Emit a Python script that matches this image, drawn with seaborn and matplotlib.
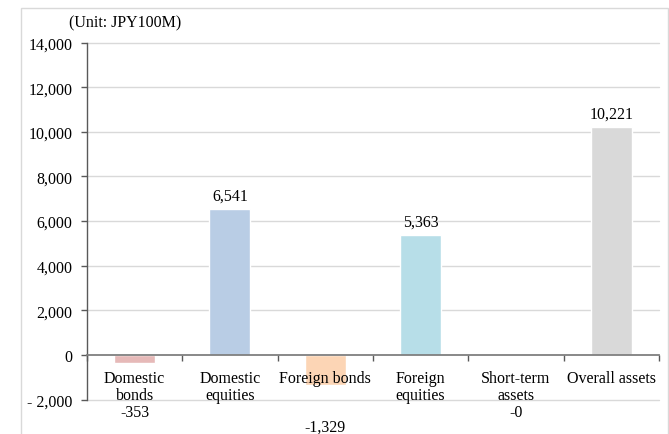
import matplotlib
matplotlib.use("Agg")
import matplotlib.pyplot as plt
from matplotlib.patches import Rectangle
from matplotlib.ticker import FuncFormatter, FixedLocator
import seaborn as sns
import pandas as pd

categories = ["Domestic\nbonds", "Domestic\nequities", "Foreign bonds",
              "Foreign\nequities", "Short-term\nassets", "Overall assets"]
values = [-353, 6541, -1329, 5363, -0.4, 10221]
value_labels = ["-353", "6,541", "-1,329", "5,363", "-0", "10,221"]
bar_colors = ["#E6B9B8", "#B9CDE5", "#FCD5B5", "#B7DEE8", "#CCC1DA", "#D9D9D9"]
y_ticks = [-2000, 0, 2000, 4000, 6000, 8000, 10000, 12000, 14000]

FS = 11.5

sns.set_theme(style="white")
plt.rcParams["font.family"] = ["Liberation Serif", "DejaVu Serif"]

df = pd.DataFrame({"category": categories, "value": values})

fig = plt.figure(figsize=(6.69, 4.35), dpi=100)
ax = fig.add_axes([0.130, 0.079, 0.855, 0.821])

sns.barplot(data=df, x="category", y="value", hue="category",
            palette=bar_colors, width=0.43, legend=False, ax=ax,
            saturation=1, zorder=0.5)

ax.set_ylim(-2000, 14000)
ax.set_xlim(-0.5, len(categories) - 0.5)
ax.set_xlabel("")
ax.set_ylabel("")

# y axis: accounting-style labels
def fmt(v, _):
    if v < 0:
        return "- {:,.0f}".format(-v)
    return "{:,.0f}".format(v)

ax.yaxis.set_major_locator(FixedLocator(y_ticks))
ax.yaxis.set_major_formatter(FuncFormatter(fmt))
ax.tick_params(axis="y", which="major", left=True, length=4, width=1,
               color="#595959", labelsize=FS, pad=6.5, labelcolor="black")

# horizontal gridlines
for t in y_ticks:
    if t != 0:
        ax.axhline(t, color="#D9D9D9", lw=1, zorder=0.3, clip_on=False)

# category axis crossing at zero
ax.spines["bottom"].set_position(("data", 0))
for s in ["top", "right"]:
    ax.spines[s].set_visible(False)
ax.spines["bottom"].set_color("#7F7F7F")
ax.spines["bottom"].set_linewidth(1.3)
ax.spines["left"].set_color("#595959")
ax.spines["left"].set_linewidth(1)

n = len(categories)
ax.xaxis.set_major_locator(FixedLocator([i - 0.5 for i in range(n + 1)]))
ax.xaxis.set_major_formatter(FuncFormatter(lambda v, _: ""))
ax.xaxis.set_minor_locator(FixedLocator(list(range(n))))
ax.set_xticklabels(categories, minor=True)
ax.tick_params(axis="x", which="major", bottom=True, length=4, width=1,
               color="#595959", direction="out")
ax.tick_params(axis="x", which="minor", bottom=True, length=0, pad=11,
               labelsize=FS, labelcolor="black")
for lab in ax.get_xticklabels(minor=True):
    lab.set_linespacing(1.08)

# value labels
neg_label_y = {0: -2560, 2: -3200, 4: -2560}
for i, (v, lab) in enumerate(zip(values, value_labels)):
    if v > 0:
        ax.text(i, v + 250, lab, ha="center", va="bottom", fontsize=FS,
                color="black")
    else:
        ax.text(i, neg_label_y[i], lab, ha="center", va="center",
                fontsize=FS, color="black", clip_on=False)

fig.text(0.187, 0.947, "(Unit: JPY100M)", ha="center", va="center",
         fontsize=FS, color="black")

# chart area border
fig.patches.append(Rectangle((21 / 669, -0.01), (668 - 21) / 669,
                             1 - 9 / 435 + 0.01, transform=fig.transFigure,
                             fill=False, edgecolor="#D9D9D9", lw=1))

fig.savefig("out.png", dpi=100)
